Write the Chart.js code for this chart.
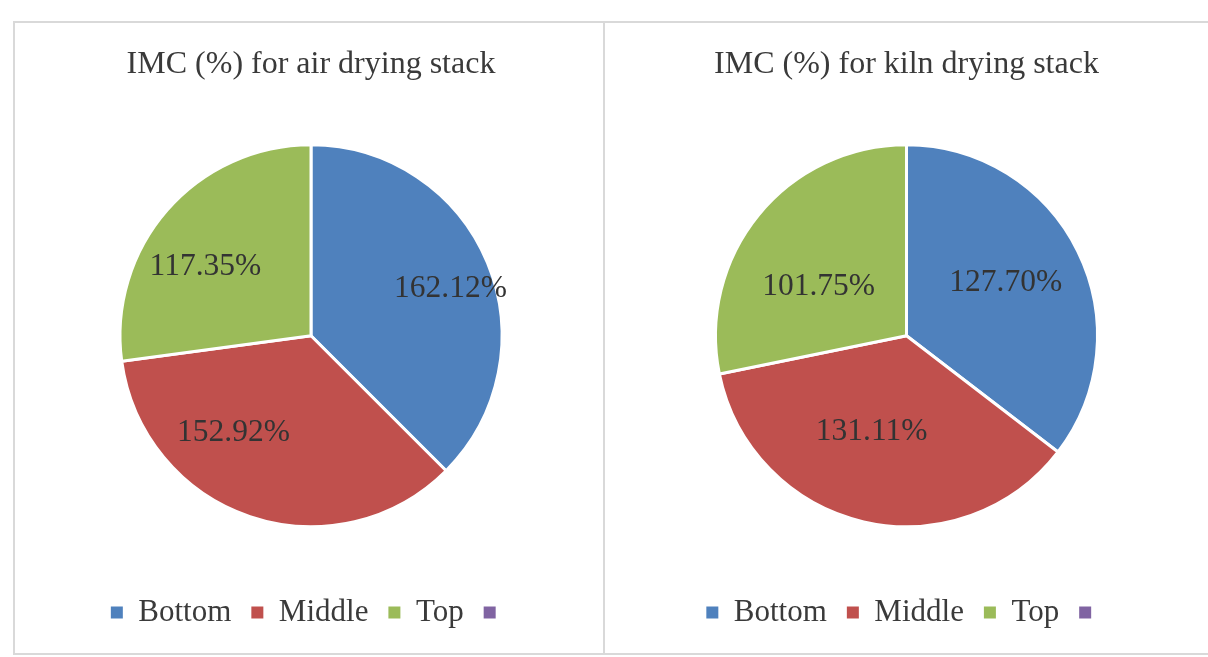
<!DOCTYPE html>
<html>
<head>
<meta charset="utf-8">
<title>IMC (%) for drying stacks</title>
<script src="https://cdn.jsdelivr.net/npm/chart.js@4.4.0/dist/chart.umd.min.js"></script>
<style>
  html, body { margin: 0; padding: 0; background: #fff; overflow: hidden; }
  body { width: 1208px; height: 657px; position: relative; }
  .panel { position: absolute; top: 21px; height: 634px; box-sizing: border-box; border: 2px solid #d9d9d9; }
  #panelAir { left: 13px; width: 590px; border-right: none; }
  #panelKiln { left: 603px; width: 620px; }
  .box { position: absolute; top: 23px; height: 615px; }
  #boxAir { left: 15px; width: 588px; }
  #boxKiln { left: 605px; width: 603px; }
</style>
</head>
<body>
<div class="panel" id="panelAir"></div>
<div class="panel" id="panelKiln"></div>
<div class="box" id="boxAir"><canvas id="airChart"></canvas></div>
<div class="box" id="boxKiln"><canvas id="kilnChart"></canvas></div>

<script>
// Datos
const categories = ['Bottom', 'Middle', 'Top', ''];
const airValues = [162.12, 152.92, 117.35];
const kilnValues = [127.70, 131.11, 101.75];
const sliceColors = ['#4F81BD', '#C0504D', '#9BBB59', '#8064A2'];

const serif = '"Liberation Serif", "Times New Roman", serif';
const textColor = '#3a3a3a';

// Etiquetas de valor dentro de cada sector (radio relativo y giro en grados)
const sliceLabels = {
    id: 'sliceLabels',
    afterDatasetsDraw(chart, args, opts) {
        const ctx = chart.ctx;
        const meta = chart.getDatasetMeta(0);
        const values = chart.data.datasets[0].data;
        ctx.save();
        ctx.font = '31.5px ' + serif;
        ctx.fillStyle = '#333333';
        ctx.textAlign = 'center';
        ctx.textBaseline = 'middle';
        meta.data.forEach((arc, i) => {
            const p = arc.getProps(['x', 'y', 'startAngle', 'endAngle', 'outerRadius'], true);
            const mid = (p.startAngle + p.endAngle) / 2 + opts.shift[i] * Math.PI / 180;
            const r = p.outerRadius * opts.radius[i];
            ctx.fillText(values[i].toFixed(2) + '%', p.x + Math.cos(mid) * r, p.y + Math.sin(mid) * r);
        });
        ctx.restore();
    }
};

function makePie(canvasId, titleText, values, labelPos, padLeft) {
    return new Chart(document.getElementById(canvasId), {
        type: 'pie',
        data: {
            labels: categories,
            datasets: [{
                data: values,
                backgroundColor: sliceColors,
                borderColor: '#ffffff',
                borderWidth: 3,
                radius: 191
            }]
        },
        options: {
            responsive: true,
            maintainAspectRatio: false,
            animation: false,
            events: [],
            layout: { padding: { left: padLeft } },
            plugins: {
                title: {
                    display: true,
                    text: titleText,
                    color: textColor,
                    font: { family: serif, size: 32, weight: 'normal' },
                    padding: { top: 22, bottom: 11 }
                },
                legend: {
                    position: 'bottom',
                    labels: {
                        color: textColor,
                        font: { family: serif, size: 31 },
                        boxWidth: 12,
                        boxHeight: 12,
                        padding: 20,
                        generateLabels(chart) {
                            const items = Chart.overrides.doughnut.plugins.legend.labels.generateLabels(chart);
                            items.forEach((it, i) => {
                                it.fillStyle = sliceColors[i];
                                it.lineWidth = 0;
                            });
                            return items;
                        }
                    }
                },
                tooltip: { enabled: false },
                sliceLabels: labelPos
            }
        },
        plugins: [sliceLabels]
    });
}

makePie('airChart', 'IMC (%) for air drying stack', airValues,
    { radius: [0.77, 0.65, 0.66], shift: [4, 20, -8] }, 4);
makePie('kilnChart', 'IMC (%) for kiln drying stack', kilnValues,
    { radius: [0.59, 0.535, 0.527], shift: [-2, 7, -10] }, 0);
</script>
</body>
</html>
